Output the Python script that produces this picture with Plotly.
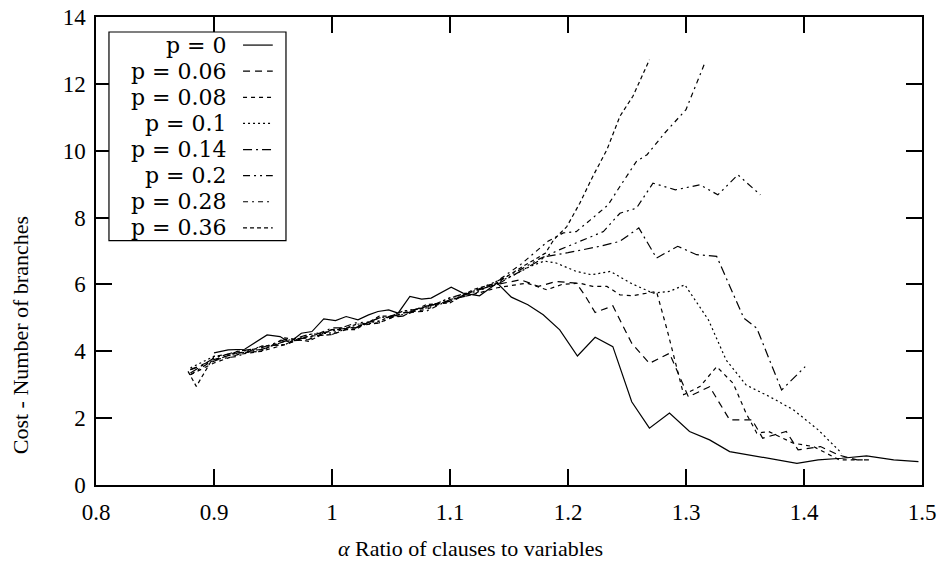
import plotly.graph_objects as go

# cost curves, one per p value
p_labels = ["p = 0", "p = 0.06", "p = 0.08", "p = 0.1", "p = 0.14", "p = 0.2", "p = 0.28", "p = 0.36"]

x_p0 = [0.90, 0.912, 0.926, 0.945, 0.956, 0.964, 0.974, 0.983, 0.993, 1.003, 1.012, 1.022, 1.031, 1.039,
        1.048, 1.056, 1.066, 1.076, 1.084, 1.093, 1.101, 1.111, 1.125, 1.140, 1.152, 1.166, 1.179, 1.193,
        1.208, 1.223, 1.238, 1.254, 1.269, 1.286, 1.303, 1.320, 1.337, 1.394, 1.412, 1.432, 1.453, 1.476, 1.497]
y_p0 = [3.95, 4.04, 4.06, 4.49, 4.44, 4.26, 4.54, 4.59, 4.97, 4.92, 5.04, 4.94, 5.09, 5.19,
        5.24, 5.14, 5.64, 5.56, 5.59, 5.76, 5.92, 5.74, 5.66, 6.04, 5.62, 5.39, 5.09, 4.64,
        3.86, 4.42, 4.14, 2.49, 1.70, 2.15, 1.60, 1.35, 1.00, 0.65, 0.75, 0.80, 0.87, 0.75, 0.70]

x_p006 = [0.88, 0.90, 0.92, 0.94, 0.96, 0.98, 1.00, 1.02, 1.04, 1.06, 1.08, 1.10, 1.12, 1.14, 1.16, 1.175,
          1.19, 1.207, 1.214, 1.223, 1.238, 1.254, 1.269, 1.286, 1.302, 1.320, 1.337, 1.356, 1.365, 1.385,
          1.395, 1.414, 1.429, 1.445, 1.455]
y_p006 = [3.45, 3.75, 3.95, 4.05, 4.30, 4.35, 4.65, 4.70, 5.00, 5.05, 5.35, 5.50, 5.80, 6.00, 6.14, 5.94,
          6.09, 6.04, 5.69, 5.16, 5.36, 4.24, 3.64, 3.94, 2.64, 2.94, 1.95, 1.95, 1.40, 1.60,
          1.05, 1.15, 0.90, 0.75, 0.75]

x_p008 = [0.88, 0.90, 0.92, 0.94, 0.96, 0.98, 1.00, 1.02, 1.04, 1.06, 1.08, 1.10, 1.12, 1.14, 1.165, 1.182,
          1.195, 1.210, 1.221, 1.233, 1.244, 1.255, 1.267, 1.275, 1.284, 1.298, 1.312, 1.326, 1.340, 1.351,
          1.360, 1.370, 1.391, 1.408, 1.430, 1.450]
y_p008 = [3.30, 3.65, 3.90, 4.00, 4.20, 4.45, 4.50, 4.75, 4.85, 5.15, 5.25, 5.55, 5.70, 5.90, 6.04, 5.84,
          6.00, 6.04, 5.94, 5.94, 5.69, 5.66, 5.74, 5.79, 4.64, 2.70, 2.95, 3.54, 3.04, 2.14,
          1.55, 1.60, 1.25, 1.15, 0.75, 0.75]

x_p01 = [0.88, 0.90, 0.92, 0.94, 0.96, 0.98, 1.00, 1.02, 1.04, 1.06, 1.08, 1.10, 1.12, 1.14, 1.155, 1.168,
         1.18, 1.190, 1.207, 1.220, 1.236, 1.253, 1.272, 1.286, 1.299, 1.319, 1.334, 1.351, 1.371, 1.391,
         1.412, 1.432]
y_p01 = [3.50, 3.85, 3.90, 4.15, 4.20, 4.50, 4.55, 4.80, 4.90, 5.20, 5.30, 5.60, 5.75, 6.05, 6.30, 6.54,
         6.70, 6.64, 6.39, 6.29, 6.39, 6.04, 5.74, 5.79, 5.99, 4.94, 3.74, 2.99, 2.64, 2.25,
         1.65, 0.95]

x_p014 = [0.88, 0.90, 0.92, 0.94, 0.96, 0.98, 1.00, 1.02, 1.04, 1.06, 1.08, 1.10, 1.12, 1.14, 1.16, 1.182,
          1.20, 1.227, 1.244, 1.260, 1.275, 1.293, 1.309, 1.326, 1.349, 1.360, 1.381, 1.401]
y_p014 = [3.35, 3.80, 4.00, 4.10, 4.35, 4.40, 4.70, 4.70, 5.00, 5.10, 5.35, 5.50, 5.80, 6.00, 6.40, 6.84,
          6.95, 7.14, 7.29, 7.69, 6.79, 7.14, 6.89, 6.84, 4.99, 4.69, 2.84, 3.54]

x_p02 = [0.88, 0.90, 0.92, 0.94, 0.96, 0.98, 1.00, 1.02, 1.04, 1.06, 1.08, 1.10, 1.12, 1.14, 1.16, 1.175,
         1.193, 1.210, 1.230, 1.244, 1.258, 1.272, 1.291, 1.312, 1.327, 1.344, 1.363]
y_p02 = [3.45, 3.70, 4.00, 4.05, 4.30, 4.50, 4.60, 4.85, 4.90, 5.20, 5.30, 5.60, 5.80, 6.10, 6.45, 6.75,
         7.04, 7.29, 7.58, 8.13, 8.28, 9.03, 8.83, 8.98, 8.68, 9.28, 8.68]

x_p028 = [0.88, 0.90, 0.92, 0.94, 0.96, 0.98, 1.00, 1.02, 1.04, 1.06, 1.08, 1.10, 1.12, 1.14, 1.16, 1.183,
          1.196, 1.207, 1.219, 1.234, 1.244, 1.258, 1.267, 1.282, 1.300, 1.316]
y_p028 = [3.30, 3.75, 3.85, 4.15, 4.20, 4.45, 4.50, 4.80, 4.85, 5.15, 5.20, 5.55, 5.70, 6.10, 6.60, 7.29,
          7.54, 7.58, 7.93, 8.38, 8.93, 9.68, 9.88, 10.53, 11.23, 12.63]

x_p036 = [0.878, 0.885, 0.90, 0.92, 0.94, 0.96, 0.98, 1.00, 1.02, 1.04, 1.06, 1.08, 1.10, 1.12, 1.14, 1.16,
          1.181, 1.188, 1.199, 1.210, 1.221, 1.233, 1.244, 1.255, 1.269]
y_p036 = [3.40, 2.95, 3.85, 3.95, 4.00, 4.40, 4.30, 4.65, 4.65, 5.05, 5.05, 5.40, 5.45, 5.85, 6.05, 6.50,
          6.94, 7.34, 7.73, 8.43, 9.23, 10.03, 11.03, 11.63, 12.72]

xs = [x_p0, x_p006, x_p008, x_p01, x_p014, x_p02, x_p028, x_p036]
ys = [y_p0, y_p006, y_p008, y_p01, y_p014, y_p02, y_p028, y_p036]
dashes = ["solid", "7px,5px", "4px,4px", "2px,3px", "9px,4px,2px,4px",
          "7px,4px,2px,4px,2px,4px", "5px,4px,2px,4px", "4px,3px"]

x_ticks = [0.8, 0.9, 1.0, 1.1, 1.2, 1.3, 1.4, 1.5]
x_ticktext = ["0.8", "0.9", "1", "1.1", "1.2", "1.3", "1.4", "1.5"]

font_family = "Liberation Serif, DejaVu Serif, serif"
legend_font = "DejaVu Serif, serif"

fig = go.Figure()
for i in range(len(p_labels)):
    fig.add_trace(go.Scatter(x=xs[i], y=ys[i], mode="lines", name=p_labels[i],
                             line=dict(color="black", width=1.2, dash=dashes[i]),
                             showlegend=False))

# hand made legend: text on the left, line sample on the right
box_x0, box_x1, box_y0, box_y1 = 0.0157, 0.230, 0.522, 0.968
row_top = 0.940
row_step = 0.0558
fig.add_shape(type="rect", xref="paper", yref="paper", x0=box_x0, x1=box_x1, y0=box_y0, y1=box_y1,
              line=dict(color="black", width=1.2), fillcolor="white", layer="above")
for i, lab in enumerate(p_labels):
    yy = row_top - i * row_step
    fig.add_annotation(x=0.161, y=yy, xref="paper", yref="paper", text=lab, showarrow=False,
                       xanchor="right", yanchor="middle", font=dict(size=22, color="black", family=legend_font))
    fig.add_shape(type="line", xref="paper", yref="paper", x0=0.178, x1=0.214, y0=yy, y1=yy,
                  line=dict(color="black", width=1.2, dash=dashes[i]), layer="above")

# axis titles (placed like the original, slightly off centre)
fig.add_annotation(x=0.453, y=-0.135, xref="paper", yref="paper", showarrow=False,
                   text="<i>α</i> Ratio of clauses to variables", xanchor="center", yanchor="middle",
                   font=dict(size=22, color="black", family=font_family))
fig.add_annotation(x=-0.092, y=0.32, xref="paper", yref="paper", showarrow=False, textangle=-90,
                   text="Cost - Number of branches", xanchor="center", yanchor="middle",
                   font=dict(size=22, color="black", family=font_family))

fig.update_layout(
    width=942, height=565,
    margin=dict(l=96, r=20, t=17, b=80),
    plot_bgcolor="white", paper_bgcolor="white",
    font=dict(family=font_family, size=22, color="black"),
)
fig.update_xaxes(range=[0.8, 1.5], tickvals=x_ticks, ticktext=x_ticktext, automargin=False,
                 ticks="inside", ticklen=16, tickwidth=1.5, tickcolor="black",
                 tickfont=dict(size=23),
                 showline=True, linecolor="black", linewidth=1.5, mirror="ticks",
                 showgrid=False, zeroline=False, ticklabelstandoff=6)
fig.update_yaxes(range=[0, 14], dtick=2, automargin=False,
                 ticks="inside", ticklen=16, tickwidth=1.5, tickcolor="black",
                 tickfont=dict(size=23),
                 showline=True, linecolor="black", linewidth=1.5, mirror="ticks",
                 showgrid=False, zeroline=False, ticklabelstandoff=4)

# drop the default 8px page margin so the figure fills the window
fig.write_html("out.html", config={"displayModeBar": False},
               post_script="document.body.style.margin='0px';")
